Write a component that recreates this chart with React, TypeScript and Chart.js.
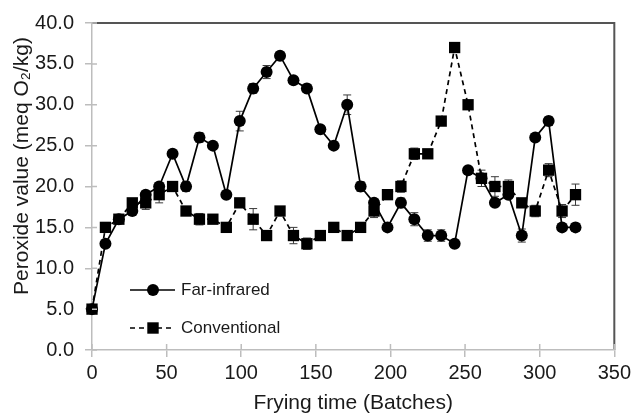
import React, { useEffect, useRef } from "react";
import { Chart, registerables } from "chart.js";

Chart.register(...registerables);

const batches = [0, 9, 18, 27, 36, 45, 54, 63, 72, 81, 90, 99, 108, 117, 126, 135, 144, 153, 162, 171, 180, 189, 198, 207, 216, 225, 234, 243, 252, 261, 270, 279, 288, 297, 306, 315, 324];
const farInfrared = [5, 13, 16, 17, 19, 20, 24, 20, 26, 25, 19, 28, 32, 34, 36, 33, 32, 27, 25, 30, 20, 18, 15, 18, 16, 14, 14, 13, 22, 21, 18, 19, 14, 26, 28, 15, 15];
const farInfraredErr = [0.2, 0.3, 0.3, 0.3, 0.4, 0.4, 0.3, 0.6, 0.6, 0.3, 0.3, 1.2, 0.6, 0.8, 0.3, 0.3, 0.5, 0.4, 0.3, 1.2, 0.6, 0.4, 0.3, 0.6, 0.8, 0.7, 0.7, 0.3, 0.3, 0.5, 0.4, 0.4, 0.8, 0.3, 0.5, 0.4, 0.5];
const conventional = [5, 15, 16, 18, 18, 19, 20, 17, 16, 16, 15, 18, 16, 14, 17, 14, 13, 14, 15, 14, 15, 17, 19, 20, 24, 24, 28, 37, 30, 21, 20, 20, 18, 17, 22, 17, 19];
const conventionalErr = [0.2, 0.6, 0.3, 0.5, 0.8, 1.0, 0.3, 0.3, 0.7, 0.3, 0.3, 0.5, 1.3, 0.3, 0.3, 1.0, 0.7, 0.3, 0.5, 0.3, 0.3, 0.8, 0.3, 0.7, 0.7, 0.3, 0.3, 0.5, 0.3, 1.0, 1.2, 0.8, 0.3, 0.7, 0.8, 0.8, 1.3];
const seriesNames = ["Far-infrared", "Conventional"];
const xTitle = "Frying time (Batches)";
const yTitle = "Peroxide value (meq O₂/kg)";

const FONT = "'Liberation Sans', Arial, sans-serif";
const TEXT = "#1a1a1a";
const AXIS = "#bdbdbd";

const errorBarPlugin = {
  id: "errorBars",
  beforeDatasetsDraw(chart: any) {
    const ctx = chart.ctx;
    const xs = chart.scales.x;
    const ys = chart.scales.y;
    const errs = [farInfraredErr, conventionalErr];
    const vals = [farInfrared, conventional];
    ctx.save();
    ctx.strokeStyle = "#3a3a3a";
    ctx.lineWidth = 1;
    for (let d = 0; d < 2; d++) {
      for (let i = 0; i < batches.length; i++) {
        const x = xs.getPixelForValue(batches[i]);
        const yt = ys.getPixelForValue(vals[d][i] + errs[d][i]);
        const yb = ys.getPixelForValue(vals[d][i] - errs[d][i]);
        ctx.beginPath();
        ctx.moveTo(x, yt);
        ctx.lineTo(x, yb);
        ctx.moveTo(x - 4, yt);
        ctx.lineTo(x + 4, yt);
        ctx.moveTo(x - 4, yb);
        ctx.lineTo(x + 4, yb);
        ctx.stroke();
      }
    }
    ctx.restore();
  },
};

const framePlugin = {
  id: "frame",
  beforeDraw(chart: any) {
    const ctx = chart.ctx;
    const a = chart.chartArea;
    ctx.save();
    ctx.fillStyle = "#fff";
    ctx.fillRect(0, 0, chart.width, chart.height);
    ctx.strokeStyle = "#555";
    ctx.lineWidth = 2;
    ctx.beginPath();
    ctx.moveTo(a.left, a.top);
    ctx.lineTo(a.right, a.top);
    ctx.lineTo(a.right, a.bottom);
    ctx.stroke();
    ctx.restore();
  },
  afterDraw(chart: any) {
    const ctx = chart.ctx;
    const a = chart.chartArea;
    const xs = chart.scales.x;
    const ys = chart.scales.y;
    ctx.save();
    ctx.strokeStyle = AXIS;
    ctx.lineWidth = 1.5;
    ctx.beginPath();
    xs.ticks.forEach((t: any) => {
      const x = xs.getPixelForValue(t.value);
      ctx.moveTo(x, a.bottom);
      ctx.lineTo(x, a.bottom - 6);
    });
    ys.ticks.forEach((t: any) => {
      const y = ys.getPixelForValue(t.value);
      ctx.moveTo(a.left, y);
      ctx.lineTo(a.left + 5, y);
    });
    ctx.stroke();

    ctx.fillStyle = TEXT;
    ctx.font = `21px ${FONT}`;
    ctx.textAlign = "center";
    ctx.textBaseline = "middle";
    ctx.fillText(xTitle, (a.left + a.right) / 2, 403);
    ctx.save();
    ctx.translate(22, 166);
    ctx.rotate(-Math.PI / 2);
    ctx.fillText(yTitle, 0, 0);
    ctx.restore();

    const items = [
      { y: 290, dash: [] as number[], style: "circle" },
      { y: 328, dash: [5, 4], style: "rect" },
    ];
    items.forEach((it, i) => {
      ctx.strokeStyle = "#000";
      ctx.lineWidth = 1.6;
      ctx.setLineDash(it.dash);
      ctx.beginPath();
      ctx.moveTo(130, it.y);
      ctx.lineTo(175, it.y);
      ctx.stroke();
      ctx.setLineDash([]);
      ctx.fillStyle = "#000";
      if (it.style === "circle") {
        ctx.beginPath();
        ctx.arc(153, it.y, 6, 0, Math.PI * 2);
        ctx.fill();
      } else {
        ctx.fillRect(153 - 5.7, it.y - 5.7, 11.4, 11.4);
      }
      ctx.fillStyle = TEXT;
      ctx.font = `17px ${FONT}`;
      ctx.textAlign = "left";
      ctx.textBaseline = "middle";
      ctx.fillText(seriesNames[i], 181, it.y);
    });
    ctx.restore();
  },
};

export default function App() {
  const ref = useRef<HTMLCanvasElement | null>(null);
  useEffect(() => {
    if (!ref.current) return;
    const chart = new Chart(ref.current, {
      type: "line",
      data: {
        datasets: [
          {
            label: seriesNames[0],
            data: batches.map((b, i) => ({ x: b, y: farInfrared[i] })),
            borderColor: "#000",
            backgroundColor: "#000",
            borderWidth: 1.7,
            pointStyle: "circle",
            pointRadius: 6,
            pointBorderWidth: 0,
            pointBackgroundColor: "#000",
            tension: 0,
            order: 1,
          },
          {
            label: seriesNames[1],
            data: batches.map((b, i) => ({ x: b, y: conventional[i] })),
            borderColor: "#000",
            backgroundColor: "#000",
            borderWidth: 1.7,
            borderDash: [5, 4],
            pointStyle: "rect",
            pointRadius: 8,
            pointBorderWidth: 0,
            pointBackgroundColor: "#000",
            tension: 0,
            order: 0,
          },
        ],
      },
      options: {
        responsive: false,
        animation: false,
        devicePixelRatio: 1,
        clip: false,
        layout: { padding: { left: 0, right: 18, top: 22, bottom: 0 } },
        plugins: { legend: { display: false }, tooltip: { enabled: false } },
        scales: {
          x: {
            type: "linear",
            min: 0,
            max: 350,
            ticks: { stepSize: 50, color: TEXT, font: { family: FONT, size: 20 }, padding: 4, maxRotation: 0 },
            grid: { display: true, drawOnChartArea: false, drawTicks: true, tickLength: 7, color: AXIS, lineWidth: 1.5 },
            border: { display: true, color: AXIS, width: 1.5 },
            afterFit: (s: any) => { s.height = 67; },
          },
          y: {
            type: "linear",
            min: 0,
            max: 40,
            ticks: { stepSize: 5, color: TEXT, font: { family: FONT, size: 20 }, padding: 11, callback: (v: any) => Number(v).toFixed(1) },
            grid: { display: true, drawOnChartArea: false, drawTicks: true, tickLength: 7, color: AXIS, lineWidth: 1.5 },
            border: { display: true, color: AXIS, width: 1.5 },
            afterFit: (s: any) => { s.width = 92; },
          },
        },
      } as any,
      plugins: [framePlugin, errorBarPlugin],
    });
    return () => chart.destroy();
  }, []);
  return (
    <div style={{ position: "fixed", left: 0, top: 0, width: 635, height: 417, background: "#fff" }}>
      <canvas ref={ref} width={635} height={417} style={{ display: "block" }} />
    </div>
  );
}
